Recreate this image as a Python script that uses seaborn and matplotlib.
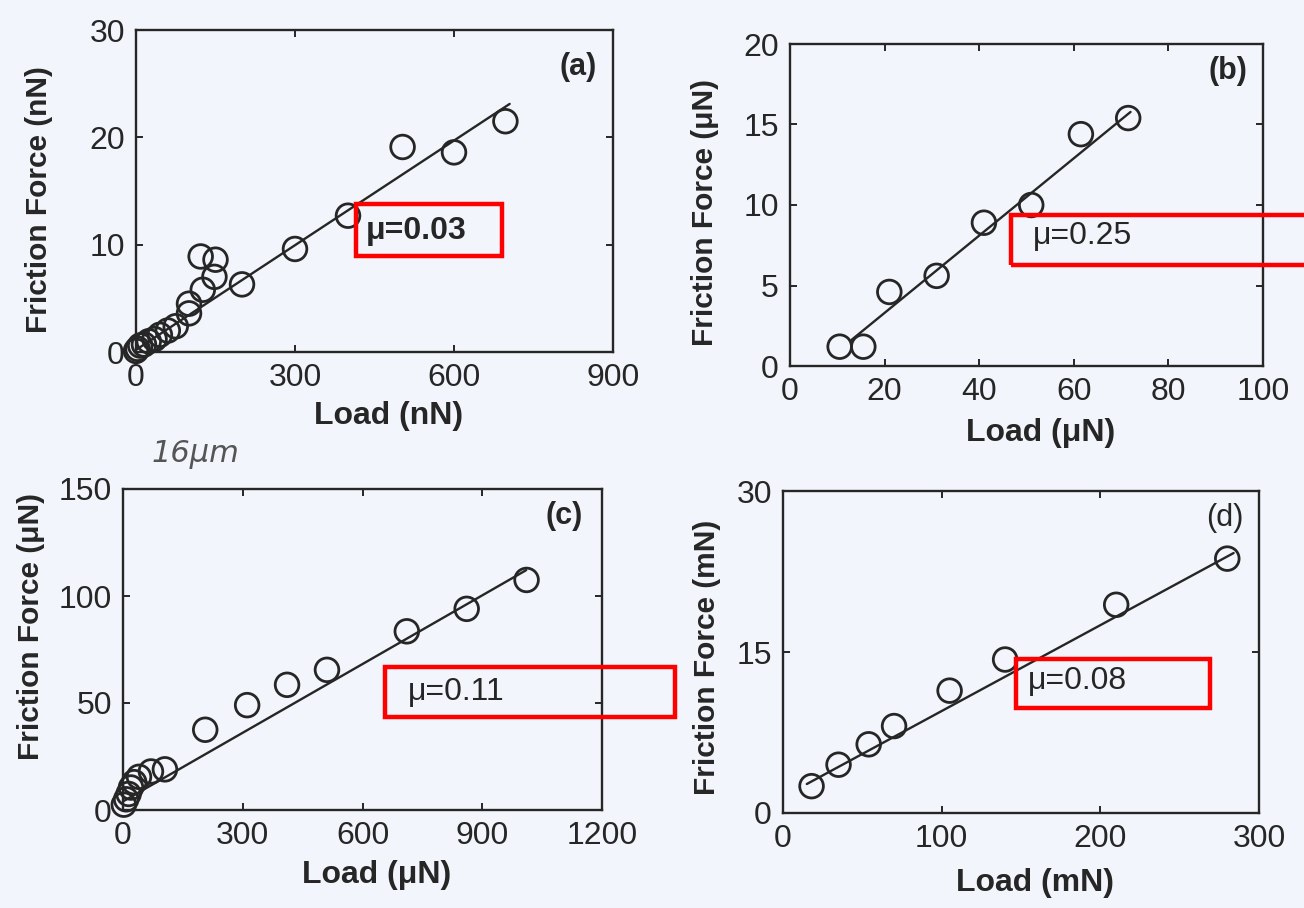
import numpy as np
import pandas as pd
import matplotlib
matplotlib.use("Agg")
import matplotlib.pyplot as plt
from matplotlib.patches import Rectangle
import seaborn as sns

# ---- measured friction data -------------------------------------------------
# (a) nano-scale contact
a_load = [0, 3, 8, 15, 24, 35, 45, 60, 75, 100, 100, 126, 122, 148, 150, 200, 300, 400, 503, 600, 697]
a_fric = [0.1, 0.3, 0.6, 0.7, 1.0, 1.2, 1.6, 2.0, 2.4, 3.6, 4.5, 5.8, 8.9, 7.0, 8.6, 6.3, 9.6, 12.7, 19.1, 18.6, 21.5]
a_fit = [0.2, 0.0325]          # intercept, slope
a_fit_span = [0, 705]

# (b) micro-scale contact
b_load = [10.5, 15.5, 21, 31, 41, 51, 61.5, 71.5]
b_fric = [1.2, 1.2, 4.6, 5.6, 8.9, 10.0, 14.4, 15.4]
b_fit = [-1.5, 0.24]
b_fit_span = [13, 72]

# (c) 16 um contact
c_load = [2, 8, 14, 20, 28, 40, 70, 105, 206, 311, 411, 511, 711, 861, 1011]
c_fric = [2.5, 5.0, 7.5, 10.5, 13.0, 15.5, 18.0, 19.0, 37.5, 49.0, 58.5, 65.5, 83.5, 94.0, 107.5]
c_fit = [4.0, 0.107]
c_fit_span = [0, 1010]

# (d) macro-scale contact
d_load = [18, 35, 54, 70, 105, 140, 210, 280]
d_fric = [2.5, 4.5, 6.4, 8.1, 11.4, 14.3, 19.4, 23.7]
d_fit = [1.5, 0.08]
d_fit_span = [15, 284]

panel_tags = ["(a)", "(b)", "(c)", "(d)"]
mu_labels = ["\u03bc=0.03", "\u03bc=0.25", "\u03bc=0.11", "\u03bc=0.08"]
x_labels = ["Load (nN)", "Load (\u03bcN)", "Load (\u03bcN)", "Load (mN)"]
y_labels = ["Friction Force (nN)", "Friction Force (\u03bcN)",
            "Friction Force (\u03bcN)", "Friction Force (mN)"]
x_ticks = [[0, 300, 600, 900], [0, 20, 40, 60, 80, 100],
           [0, 300, 600, 900, 1200], [0, 100, 200, 300]]
y_ticks = [[0, 10, 20, 30], [0, 5, 10, 15, 20], [0, 50, 100, 150], [0, 15, 30]]

# ---- styling -----------------------------------------------------------------
W, H = 1304, 908
PAPER = "#f2f5fb"
INK = "#262626"
RED = "#ff0000"

sns.set_theme(style="ticks")
plt.rcParams["font.family"] = ["Liberation Sans", "DejaVu Sans"]
plt.rcParams["axes.linewidth"] = 1.6

fig = plt.figure(figsize=(W / 100, H / 100), dpi=100, facecolor=PAPER)


def add_px_axes(left, top, right, bottom):
    return fig.add_axes([left / W, 1 - bottom / H, (right - left) / W, (bottom - top) / H])


# frame boxes in pixels: left, top, right, bottom
frames = [(136, 30, 613, 352), (790, 44, 1263, 366),
          (123, 489, 602, 810), (783, 491, 1259, 813)]
# y-label horizontal offset (px left of frame) and vertical centre (px)
ylab_pos = [(97, 200), (85, 213), (92, 627), (76, 657)]
xlab_drop = [64, 67, 65, 70]
tag_pos = [(578, 67), (1228, 71), (564, 516), (1225, 518)]
tag_weight = ["bold", "bold", "bold", "normal"]
# red highlight boxes (left, top, right, bottom) and label anchor (x, y)
hl_boxes = [(356, 204, 502, 256), (1011, 215, 1312, 265),
            (385, 667, 675, 717), (1016, 659, 1210, 708)]
hl_text = [(366, 231), (1033, 236), (408, 692), (1028, 681)]
hl_weight = ["bold", "normal", "normal", "normal"]

datasets = [
    (a_load, a_fric, a_fit, a_fit_span),
    (b_load, b_fric, b_fit, b_fit_span),
    (c_load, c_fric, c_fit, c_fit_span),
    (d_load, d_fric, d_fit, d_fit_span),
]

for i, (load, fric, fit, span) in enumerate(datasets):
    left, top, right, bottom = frames[i]
    ax = add_px_axes(left, top, right, bottom)
    ax.set_facecolor(PAPER)

    pts = pd.DataFrame({"load": load, "friction": fric})
    fx = np.linspace(span[0], span[1], 2)
    line = pd.DataFrame({"load": fx, "friction": fit[0] + fit[1] * fx})

    sns.lineplot(data=line, x="load", y="friction", ax=ax, color=INK,
                 linewidth=1.7, zorder=2)
    sns.scatterplot(data=pts, x="load", y="friction", ax=ax, marker="o",
                    s=290, facecolor="none", edgecolor=INK, linewidth=2.0,
                    clip_on=False, zorder=3)

    ax.set_xlim(x_ticks[i][0], x_ticks[i][-1])
    ax.set_ylim(y_ticks[i][0], y_ticks[i][-1])
    ax.set_xticks(x_ticks[i])
    ax.set_yticks(y_ticks[i])
    ax.tick_params(direction="in", top=True, right=True, length=5, width=1.4,
                   labelsize=23, pad=8, color=INK, labelcolor=INK)
    for sp in ax.spines.values():
        sp.set_visible(True)
        sp.set_color(INK)
        sp.set_linewidth(1.7)

    w = right - left
    h = bottom - top
    ax.set_xlabel(x_labels[i], fontsize=23, fontweight="bold", color=INK, va="center")
    ax.xaxis.set_label_coords(0.5 + 14 / w, -xlab_drop[i] / h)
    ax.set_ylabel(y_labels[i], fontsize=21.5, fontweight="bold", color=INK, va="center")
    yo, yc = ylab_pos[i]
    ax.yaxis.set_label_coords(-yo / w, (bottom - yc) / h)

    tx, ty = tag_pos[i]
    fig.text(tx / W, 1 - ty / H, panel_tags[i], fontsize=22,
             fontweight=tag_weight[i], color=INK, ha="center", va="center")

    bl, bt, br, bb = hl_boxes[i]
    fig.add_artist(Rectangle((bl / W, 1 - bb / H), (br - bl) / W, (bb - bt) / H,
                             transform=fig.transFigure, fill=False,
                             edgecolor=RED, linewidth=3.2, zorder=10))
    mx, my = hl_text[i]
    fig.text(mx / W, 1 - my / H, mu_labels[i], fontsize=23,
             fontweight=hl_weight[i], color=INK, ha="left", va="center")

# pencil note beside panel (c)
fig.text(152 / W, 1 - 455 / H, "16\u03bcm", fontsize=22, style="italic",
         color="#555555", ha="left", va="center", family=["DejaVu Sans"])

fig.savefig("out.png", dpi=100, facecolor=PAPER)
